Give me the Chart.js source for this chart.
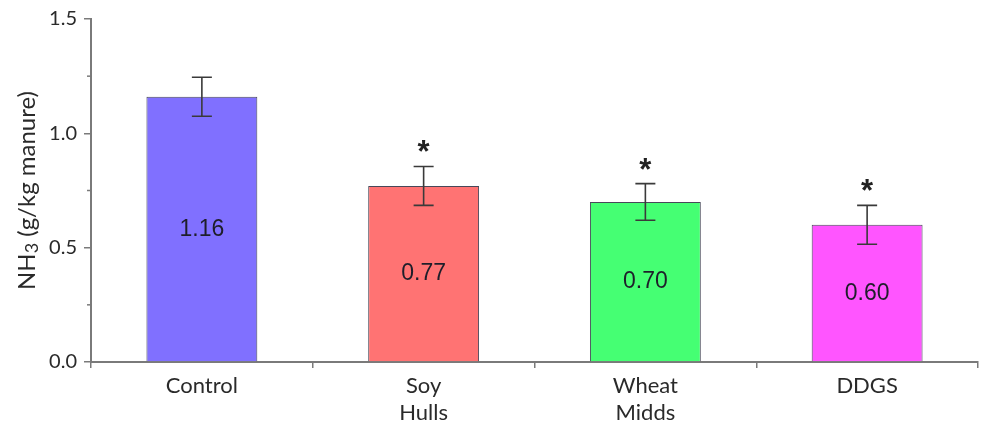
<!DOCTYPE html>
<html>
<head>
<meta charset="utf-8">
<script src="https://cdn.jsdelivr.net/npm/chart.js@4.4.1/dist/chart.umd.min.js"></script>
<style>
  html, body { margin: 0; padding: 0; background: #fff; }
  #wrap { width: 987px; height: 432px; }
</style>
</head>
<body>
<div id="wrap"><canvas id="c" width="987" height="432"></canvas></div>
<script>
// Ammonia emission by diet
const categories = [['Control'], ['Soy', 'Hulls'], ['Wheat', 'Midds'], ['DDGS']];
const nh3Values = [1.16, 0.77, 0.70, 0.60];
const nh3Errors = [0.085, 0.085, 0.08, 0.085];
const significant = [false, true, true, true];
const valueLabels = ['1.16', '0.77', '0.70', '0.60'];
const yTicks = [0.0, 0.5, 1.0, 1.5];
const yMinorTicks = [0.25, 0.75, 1.25];

const barColors = ['#8070ff', '#ff7373', '#45ff73', '#ff55ff'];
const axisGray = '#7a7a7a';
const textColor = '#2a2a2a';
const labelFont = 'Lato, "Open Sans", sans-serif';

// Error bars, significance marks, value labels, minor ticks and the axis title
const overlay = {
  id: 'overlay',
  afterDatasetsDraw(chart) {
    const ctx = chart.ctx;
    const y = chart.scales.y;
    const meta = chart.getDatasetMeta(0);
    ctx.save();
    meta.data.forEach((bar, i) => {
      const cx = bar.x;
      const yHi = y.getPixelForValue(nh3Values[i] + nh3Errors[i]);
      const yLo = y.getPixelForValue(nh3Values[i] - nh3Errors[i]);
      ctx.strokeStyle = '#3a3a3a';
      ctx.lineWidth = 1.6;
      ctx.beginPath();
      ctx.moveTo(cx, yHi); ctx.lineTo(cx, yLo);
      ctx.moveTo(cx - 10, yHi); ctx.lineTo(cx + 10, yHi);
      ctx.moveTo(cx - 10, yLo); ctx.lineTo(cx + 10, yLo);
      ctx.stroke();

      // value label at the middle of the bar
      const yMid = (y.getPixelForValue(nh3Values[i]) + y.getPixelForValue(0)) / 2;
      ctx.fillStyle = '#1e1e2a';
      ctx.font = '23px "Liberation Sans", Arial, sans-serif';
      ctx.textAlign = 'center';
      ctx.textBaseline = 'middle';
      ctx.fillText(valueLabels[i], cx, yMid);

      if (significant[i]) {
        ctx.font = 'bold 31px "Liberation Sans", Arial, sans-serif';
        ctx.textBaseline = 'alphabetic';
        ctx.fillStyle = '#222';
        ctx.fillText('*', cx, yHi - 4);
      }
    });

    // minor ticks on the value axis
    ctx.strokeStyle = axisGray;
    ctx.lineWidth = 1.5;
    yMinorTicks.forEach(v => {
      const py = y.getPixelForValue(v);
      ctx.beginPath();
      ctx.moveTo(y.right - 4, py);
      ctx.lineTo(y.right, py);
      ctx.stroke();
    });

    // value-axis title with a subscript 3
    const area = chart.chartArea;
    ctx.translate(27, (area.top + area.bottom) / 2);
    ctx.rotate(-Math.PI / 2);
    ctx.fillStyle = textColor;
    ctx.textBaseline = 'middle';
    ctx.textAlign = 'left';
    const big = '24px ' + labelFont, small = '18px ' + labelFont;
    const parts = [['NH', big, 0], ['3', small, 5], [' (g/kg manure)', big, 0]];
    let total = 0;
    parts.forEach(p => { ctx.font = p[1]; total += ctx.measureText(p[0]).width; });
    let px = -total / 2;
    parts.forEach(p => {
      ctx.font = p[1];
      ctx.fillText(p[0], px, p[2]);
      px += ctx.measureText(p[0]).width;
    });
    ctx.restore();
  }
};

new Chart(document.getElementById('c'), {
  type: 'bar',
  data: {
    labels: categories,
    datasets: [{
      data: nh3Values,
      backgroundColor: barColors,
      borderColor: 'rgba(40,40,60,0.85)',
      borderWidth: 1,
      borderSkipped: 'bottom',
      barPercentage: 0.5,
      categoryPercentage: 1.0
    }]
  },
  options: {
    responsive: false,
    animation: false,
    devicePixelRatio: 1,
    layout: { padding: { top: 19, right: 9, left: 0, bottom: 0 } },
    plugins: { legend: { display: false }, tooltip: { enabled: false } },
    scales: {
      x: {
        afterFit(s) { s.height = 70; },
        grid: {
          display: true,
          drawOnChartArea: false,
          offset: true,
          color: axisGray,
          tickLength: 6,
          lineWidth: 1.5
        },
        border: { display: true, color: axisGray, width: 2 },
        ticks: {
          color: textColor,
          padding: 5,
          font: { family: labelFont, size: 22, lineHeight: 1.2 },
          maxRotation: 0,
          autoSkip: false
        }
      },
      y: {
        min: 0,
        max: 1.5,
        afterFit(s) { s.width = 91; },
        afterBuildTicks(s) { s.ticks = yTicks.map(v => ({ value: v })); },
        grid: {
          display: true,
          drawOnChartArea: false,
          color: axisGray,
          tickLength: 7,
          lineWidth: 1.5
        },
        border: { display: true, color: axisGray, width: 2 },
        ticks: {
          color: textColor,
          padding: 7,
          font: { family: labelFont, size: 20 },
          callback: v => v.toFixed(1)
        },
        title: { display: false }
      }
    }
  },
  plugins: [overlay]
});
</script>
</body>
</html>
